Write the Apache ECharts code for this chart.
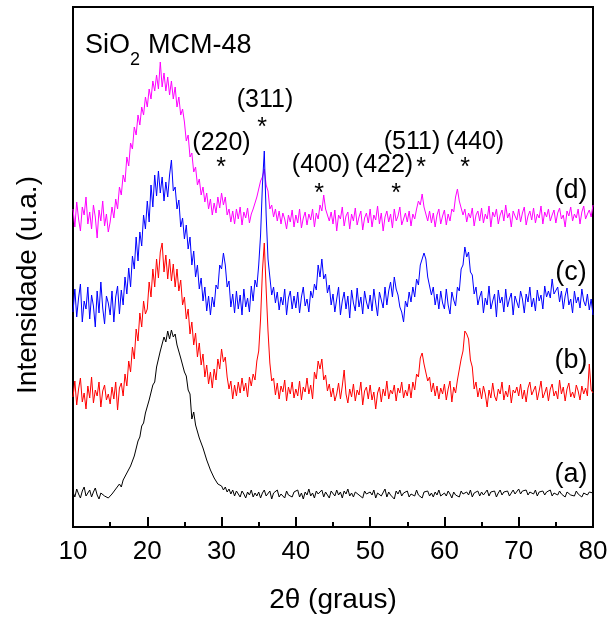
<!DOCTYPE html>
<html>
<head>
<meta charset="utf-8">
<script src="https://cdn.jsdelivr.net/npm/echarts@6/dist/echarts.min.js"></script>
<style>html,body{margin:0;padding:0;background:#fff}#chart{width:611px;height:621px}</style>
</head>
<body>
<div id="chart"></div>
<script>
// 2-theta grid: first angle and step (degrees)
const twoThetaStart = 10;
const twoThetaStep = 0.25;
const xTicks = [10, 20, 30, 40, 50, 60, 70, 80];

// (a) black
const seriesA = [
35,30,38,33,29,36,40,31,34,37,30,35,39,32,28,34,36,31,33,29,
28,33,31,38,36,43,40,47,46,54,52,61,60,71,73,86,90,101,104,114,
116,127,128,142,145,160,162,176,177,190,185,196,188,197,190,193,182,183,169,167,
155,151,137,133,108,115,102,101,89,90,79,79,67,68,57,59,49,51,43,44,
41,37,40,35,38,33,37,31,36,34,30,36,33,29,35,32,37,30,34,31,
35,29,34,37,31,33,36,28,34,32,37,30,33,35,29,36,32,34,30,35,
33,37,30,34,28,35,32,38,31,34,29,36,33,31,37,30,35,33,29,36,
34,31,37,32,35,29,36,33,38,31,34,30,35,37,32,34,29,36,33,31,
35,32,37,29,34,36,31,33,38,30,35,32,34,28,36,33,37,31,34,32,
36,30,33,35,31,37,32,34,29,35,33,36,31,34,30,35,32,37,31,33,
34,31,36,33,29,35,32,34,30,36,33,31,35,32,37,30,34,33,36,31,
35,32,34,37,31,35,33,36,30,34,37,32,35,33,36,31,34,37,33,35,
38,33,36,34,37,32,35,36,33,37,31,35,34,36,32,35,33,37,31,34,
35,32,36,33,34,30,35,37,32,34,31,36,33,35,30,34,36,32,35,33,
34];

// (b) red
const seriesB = [
130,146,122,138,149,125,134,118,141,129,150,124,137,131,145,120,136,142,127,133,
123,140,128,145,117,139,144,131,153,141,166,155,180,168,198,186,214,200,226,213,
218,245,230,258,240,268,249,275,284,255,272,248,268,246,263,240,258,236,247,222,
230,208,218,193,205,182,194,170,184,162,173,150,162,143,155,139,158,147,168,158,
178,165,170,150,138,146,128,142,131,145,134,149,136,144,130,150,141,153,147,166,
176,208,256,284,238,196,164,146,149,132,144,128,141,135,147,126,140,133,145,129,
138,131,146,127,140,135,149,133,142,128,155,148,166,158,168,147,152,136,143,130,
139,126,133,144,128,141,157,133,124,138,130,143,126,137,132,145,122,136,140,128,
142,127,135,118,134,140,125,138,131,146,128,137,133,142,126,139,134,145,129,137,
131,143,129,145,137,153,150,169,174,163,165,146,150,135,144,131,141,128,139,133,
143,127,138,146,125,140,134,147,145,168,176,196,193,188,167,160,138,145,130,139,
128,141,133,120,137,129,144,131,126,138,133,145,127,136,130,142,124,137,134,140,
131,143,128,137,125,139,145,132,130,141,127,136,146,129,134,140,126,138,143,131,
136,128,147,133,140,126,138,144,130,135,129,142,136,127,141,133,139,131,163,137,
134];

// (c) blue
const seriesC = [
215,238,210,229,243,205,226,218,240,208,232,221,200,236,214,245,219,203,231,224,
212,236,205,230,241,213,237,222,250,233,259,240,271,258,290,266,295,281,312,298,
326,305,342,320,352,331,356,334,350,326,345,330,352,367,336,340,318,327,300,309,
288,302,278,290,262,276,250,262,238,249,226,240,216,231,212,230,220,242,238,262,
258,274,262,240,246,220,233,214,236,218,232,212,238,220,229,215,241,226,247,240,
262,292,342,376,312,268,250,232,240,224,235,217,230,222,238,212,229,236,218,231,
219,235,214,230,240,221,228,215,236,229,243,237,262,250,268,248,253,234,242,222,
233,215,228,240,212,226,235,218,231,209,237,224,216,239,220,230,213,236,225,218,
232,216,238,224,211,235,227,219,240,222,236,245,230,250,238,232,220,215,205,226,
220,235,225,240,230,248,242,262,260,274,268,250,251,232,240,222,233,218,236,224,
218,238,222,213,235,227,221,240,236,258,262,280,270,275,255,252,233,240,222,230,
236,214,229,222,241,218,226,233,210,237,224,230,215,238,220,228,234,212,231,225,
219,236,228,214,233,225,240,220,229,216,237,226,232,218,241,230,236,229,248,233,
232,240,225,236,218,231,239,222,228,214,236,224,230,219,238,226,221,233,217,228,
212];

// (d) magenta
const seriesD = [
318,300,325,308,296,320,312,330,303,315,298,322,310,289,317,306,326,301,313,295,
305,320,309,328,318,340,332,352,345,370,361,384,378,400,392,412,402,420,412,430,
420,438,428,446,436,452,438,465,440,454,436,450,432,446,428,440,420,430,412,418,
405,386,392,370,374,355,360,342,348,332,340,325,334,318,328,312,324,314,330,319,
334,322,330,312,318,305,316,303,318,308,320,302,315,309,319,304,313,318,324,330,
338,346,350,358,342,336,318,322,310,318,306,316,303,314,308,298,312,305,317,300,
312,304,318,299,309,315,302,313,307,318,300,314,308,322,316,332,318,320,306,315,
303,317,296,312,308,320,301,311,315,298,313,306,319,302,310,316,297,309,314,304,
318,300,312,307,321,303,314,296,310,316,305,313,299,318,306,311,320,302,308,314,
305,316,301,313,308,318,326,322,333,320,322,306,316,304,314,300,312,318,303,311,
317,302,313,306,318,315,330,338,326,324,312,318,305,314,309,319,301,312,316,306,
319,304,313,308,321,300,315,310,318,303,312,317,306,322,309,314,300,316,311,307,
318,305,314,320,302,311,316,307,319,304,313,309,321,303,315,310,318,306,312,317,
304,314,319,308,312,300,316,311,320,306,313,309,318,303,315,321,308,313,317,310,
322];

const seriesNames = ['(a)', '(b)', '(c)', '(d)'];
const hklLabels = ['(220)', '(311)', '(400)', '(422)', '(511)', '(440)'];
const titleParts = ['SiO', '2', 'MCM-48'];
const xAxisTitle = '2\u03b8 (graus)';
const yAxisTitle = 'Intensidade (u.a.)';

const FONT = "'Liberation Sans', Arial, sans-serif";
function pairs(arr) { return arr.map((v, i) => [twoThetaStart + i * twoThetaStep, v]); }

const chart = echarts.init(document.getElementById('chart'), null, {renderer: 'canvas'});

function txt(text, x, y, size, align, extra) {
  return Object.assign({
    type: 'text', x: x, y: y, silent: true, z: 100,
    style: { text: text, font: size + 'px ' + FONT, fill: '#000', align: align || 'center', verticalAlign: 'middle' }
  }, extra || {});
}

// label positions (pixels)
const hklPos = [[221.5, 143], [265, 100], [321, 165], [384, 165], [412, 142], [475, 142]];
const starPos = [[221, 162], [262, 122], [319, 188], [396, 188], [421, 162], [465, 162]];
const namePos = [[571, 475], [571, 361], [571, 273], [571, 191]];

const graphics = [];
hklLabels.forEach((t, i) => {
  graphics.push(txt(t, hklPos[i][0], hklPos[i][1], 25));
  graphics.push(txt('*', starPos[i][0], starPos[i][1] + 6, 25));
});
seriesNames.forEach((t, i) => graphics.push(txt(t, namePos[i][0], namePos[i][1], 27)));
graphics.push(txt(titleParts[0], 85, 46, 27, 'left'));
graphics.push(txt(titleParts[1], 130, 60, 18, 'left'));
graphics.push(txt(titleParts[2], 148, 46, 27, 'left'));
graphics.push(txt(xAxisTitle, 333, 600, 28));
graphics.push(txt(yAxisTitle, 28, 285, 28, 'center', {rotation: Math.PI / 2}));

const colors = ['#000000', '#ff0000', '#0000ff', '#ff00ff'];
const datasets = [seriesA, seriesB, seriesC, seriesD];
const series = [];
[3, 2, 1, 0].forEach(k => {
  series.push({
    type: 'line', name: seriesNames[k], data: pairs(datasets[k]),
    showSymbol: false, symbol: 'none', sampling: false, animation: false,
    lineStyle: { color: colors[k], width: 1 }, z: 2 + (3 - k)
  });
});

chart.setOption({
  animation: false,
  backgroundColor: '#fff',
  grid: { left: 73, right: 18, top: 7, bottom: 94, show: true, borderColor: '#000', borderWidth: 2, containLabel: false },
  xAxis: {
    type: 'value', min: xTicks[0], max: xTicks[xTicks.length - 1], interval: 10,
    axisLine: { show: true, lineStyle: { color: '#000', width: 2 } },
    axisTick: { show: true, inside: true, length: 10, lineStyle: { color: '#000', width: 2 } },
    minorTick: { show: true, splitNumber: 2, length: 5, lineStyle: { color: '#000', width: 2 } },
    splitLine: { show: false },
    axisLabel: { color: '#000', fontSize: 26, fontFamily: FONT, margin: 12 }
  },
  yAxis: {
    type: 'value', min: 0, max: 520,
    axisLine: { show: true, lineStyle: { color: '#000', width: 2 } },
    axisTick: { show: false }, axisLabel: { show: false }, splitLine: { show: false }
  },
  series: series,
  graphic: graphics
});
</script>
</body>
</html>
